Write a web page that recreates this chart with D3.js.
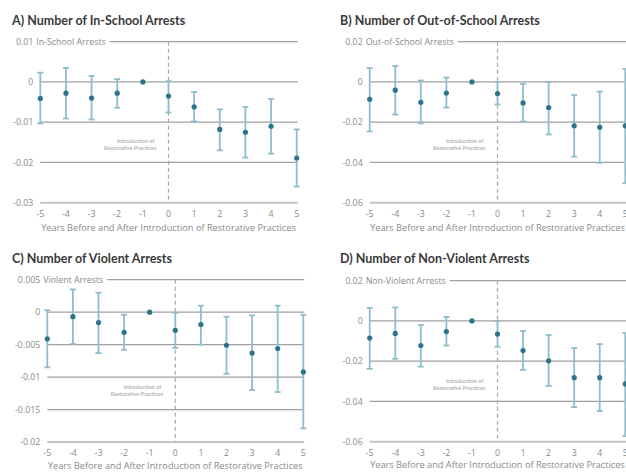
<!DOCTYPE html>
<html>
<head>
<meta charset="utf-8">
<script src="https://cdn.jsdelivr.net/npm/d3@7"></script>
<style>
  body { margin: 0; background: #fff; }
  svg { display: block; font-family: "Open Sans", Lato, sans-serif; }
  .ttl { font-family: Lato, "Open Sans", sans-serif; }
</style>
</head>
<body>
<div id="chart"></div>
<script>
// années relatives à l'introduction des pratiques restauratives
var years = [-5, -4, -3, -2, -1, 0, 1, 2, 3, 4, 5];

// A) arrestations à l'école
var inSchoolEst = [-0.0041, -0.0028, -0.0040, -0.0028, 0, -0.0035, -0.0062, -0.0118, -0.0125, -0.0110, -0.0189];
var inSchoolLo  = [-0.0103, -0.0091, -0.0093, -0.0064, 0, -0.0076, -0.0098, -0.0170, -0.0188, -0.0178, -0.0260];
var inSchoolHi  = [ 0.0023,  0.0035,  0.0015,  0.0007, 0,  0.0002, -0.0025, -0.0068, -0.0062, -0.0042, -0.0118];

// B) arrestations hors école
var outSchoolEst = [-0.0086, -0.0041, -0.0101, -0.0055, 0, -0.0058, -0.0104, -0.0127, -0.0218, -0.0225, -0.0218];
var outSchoolLo  = [-0.0246, -0.0162, -0.0206, -0.0127, 0, -0.0112, -0.0197, -0.0261, -0.0371, -0.0402, -0.0503];
var outSchoolHi  = [ 0.0069,  0.0079,  0.0007,  0.0022, 0,  0.0000, -0.0010,  0.0000, -0.0065, -0.0048,  0.0065];

// C) arrestations violentes
var violentEst = [-0.0041, -0.0007, -0.0016, -0.0031, 0, -0.0028, -0.0019, -0.0051, -0.0063, -0.0056, -0.0092];
var violentLo  = [-0.0085, -0.0049, -0.0063, -0.0058, 0, -0.0055, -0.0050, -0.0095, -0.0120, -0.0123, -0.0179];
var violentHi  = [ 0.0003,  0.0035,  0.0030, -0.0004, 0, -0.0001,  0.0010, -0.0007, -0.0005,  0.0010, -0.0004];

// D) arrestations non violentes
var nonViolentEst = [-0.0085, -0.0062, -0.0122, -0.0053, 0, -0.0065, -0.0147, -0.0198, -0.0282, -0.0282, -0.0313];
var nonViolentLo  = [-0.0238, -0.0188, -0.0227, -0.0122, 0, -0.0128, -0.0243, -0.0323, -0.0428, -0.0448, -0.0572];
var nonViolentHi  = [ 0.0065,  0.0067, -0.0020,  0.0020, 0,  0.0000, -0.0050, -0.0070, -0.0135, -0.0115, -0.0060];

var titles = ["A) Number of In-School Arrests", "B) Number of Out-of-School Arrests",
              "C) Number of Violent Arrests", "D) Number of Non-Violent Arrests"];
var seriesNames = ["In-School Arrests", "Out-of-School Arrests", "Violent Arrests", "Non-Violent Arrests"];
var yTicksA = [0.01, 0, -0.01, -0.02, -0.03];
var yTicksB = [0.02, 0, -0.02, -0.04, -0.06];
var yTicksC = [0.005, 0, -0.005, -0.01, -0.015, -0.02];
var yTicksD = [0.02, 0, -0.02, -0.04, -0.06];
var xTitle = "Years Before and After Introduction of Restorative Practices";

var W = 626, H = 472;
var svg = d3.select("#chart").append("svg").attr("width", W).attr("height", H);

function drawPanel(p) {
  var g = svg.append("g");
  var x = d3.scaleLinear().domain([-5, 5]).range([p.x0, p.x1]);
  var y = d3.scaleLinear().domain(d3.extent(p.ticks)).range([p.yb, p.yt]);
  var gridEnd = Math.min(p.x1 + 1, W);
  var labX = p.x0 - 7;

  // titre
  g.append("text").attr("class", "ttl").attr("x", p.tx).attr("y", p.ty)
    .attr("font-size", 12.5).attr("font-weight", 700).attr("fill", "#3a3a3a")
    .text(p.title);

  // lignes de grille + étiquettes
  var top = d3.max(p.ticks), bottom = d3.min(p.ticks);
  p.ticks.forEach(function(t) {
    g.append("text").attr("x", labX).attr("y", y(t)).attr("dy", "0.35em")
      .attr("text-anchor", "end").attr("font-size", 8.8).attr("fill", "#8a8a8a")
      .text(String(t));
    var start = p.x0;
    if (t === top) {
      var nm = g.append("text").attr("x", labX + 3).attr("y", y(t)).attr("dy", "0.35em")
        .attr("font-size", 8.8).attr("fill", "#8a8a8a").text(p.name);
      start = labX + 3 + nm.node().getComputedTextLength() + 4;
    }
    g.append("line").attr("x1", start).attr("x2", gridEnd)
      .attr("y1", y(t)).attr("y2", y(t))
      .attr("stroke", t === bottom ? "#c4c4c4" : "#a0a0a0")
      .attr("stroke-width", t === bottom ? 2 : 1.2);
  });

  // axe x
  g.selectAll(".xt").data(years).enter().append("text")
    .attr("x", function(d) { return x(d); }).attr("y", p.yb + 14)
    .attr("text-anchor", "middle").attr("font-size", 8.8).attr("fill", "#8a8a8a")
    .text(function(d) { return d; });
  g.append("text").attr("x", (p.x0 + p.x1) / 2).attr("y", p.yb + p.xtY)
    .attr("text-anchor", "middle").attr("font-size", 9.2).attr("fill", "#8a8a8a")
    .text(xTitle);

  // ligne pointillée à l'année 0
  g.append("line").attr("x1", x(0)).attr("x2", x(0)).attr("y1", p.yt).attr("y2", p.yb)
    .attr("stroke", "#a8a8a8").attr("stroke-width", 1.2).attr("stroke-dasharray", "4,3");
  var ann = g.append("text").attr("class", "ttl").attr("x", x(0) - 12).attr("y", p.yt + p.annY)
    .attr("text-anchor", "end").attr("font-size", 5.6).attr("font-weight", 700).attr("fill", "#b4b4b4");
  ann.append("tspan").attr("x", x(0) - 14).text("Introduction of");
  ann.append("tspan").attr("x", x(0) - 12).attr("dy", 7).text("Restorative Practices");

  // barres d'erreur
  var rows = years.map(function(yr, i) { return { yr: yr, est: p.est[i], lo: p.lo[i], hi: p.hi[i] }; })
    .filter(function(d) { return d.lo !== d.hi; });
  var eb = g.selectAll(".eb").data(rows).enter().append("g").attr("stroke", "#8fbdcb").attr("stroke-width", 1.8);
  eb.append("line").attr("x1", function(d) { return x(d.yr); }).attr("x2", function(d) { return x(d.yr); })
    .attr("y1", function(d) { return y(d.lo); }).attr("y2", function(d) { return y(d.hi); });
  eb.append("line").attr("x1", function(d) { return x(d.yr) - 3; }).attr("x2", function(d) { return x(d.yr) + 3; })
    .attr("y1", function(d) { return y(d.lo); }).attr("y2", function(d) { return y(d.lo); });
  eb.append("line").attr("x1", function(d) { return x(d.yr) - 3; }).attr("x2", function(d) { return x(d.yr) + 3; })
    .attr("y1", function(d) { return y(d.hi); }).attr("y2", function(d) { return y(d.hi); });

  // points
  g.selectAll(".pt").data(years).enter().append("circle")
    .attr("cx", function(d) { return x(d); })
    .attr("cy", function(d, i) { return y(p.est[i]); })
    .attr("r", 2.6).attr("fill", "#2b7489");
}

drawPanel({ title: titles[0], name: seriesNames[0], ticks: yTicksA, est: inSchoolEst, lo: inSchoolLo, hi: inSchoolHi,
  x0: 40.3, x1: 296.7, yt: 41.7, yb: 202.7, tx: 12, ty: 24.5, annY: 101, xtY: 28.5 });
drawPanel({ title: titles[1], name: seriesNames[1], ticks: yTicksB, est: outSchoolEst, lo: outSchoolLo, hi: outSchoolHi,
  x0: 369.7, x1: 625.3, yt: 41.7, yb: 202.7, tx: 340, ty: 24.5, annY: 101, xtY: 28.5 });
drawPanel({ title: titles[2], name: seriesNames[2], ticks: yTicksC, est: violentEst, lo: violentLo, hi: violentHi,
  x0: 47.3, x1: 303.3, yt: 279.7, yb: 442, tx: 12, ty: 263, annY: 109, xtY: 26.5 });
drawPanel({ title: titles[3], name: seriesNames[3], ticks: yTicksD, est: nonViolentEst, lo: nonViolentLo, hi: nonViolentHi,
  x0: 369.7, x1: 625.3, yt: 280.7, yb: 441.7, tx: 340, ty: 263, annY: 102, xtY: 26.5 });
</script>
</body>
</html>
